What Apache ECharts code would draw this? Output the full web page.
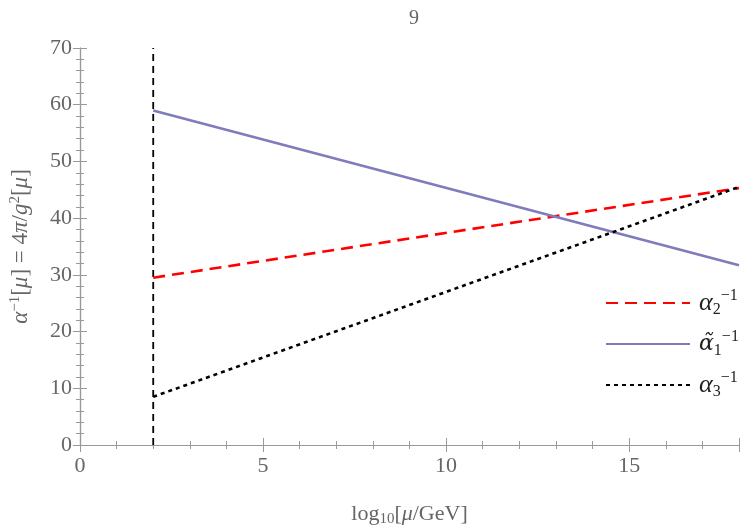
<!DOCTYPE html>
<html>
<head>
<meta charset="utf-8">
<script src="https://cdn.jsdelivr.net/npm/echarts@6/dist/echarts.min.js"></script>
<style>
  html, body { margin: 0; padding: 0; background: #fff; }
  #chart { width: 750px; height: 532px; }
</style>
</head>
<body>
<div id="chart"></div>
<script>
// running couplings, endpoints
const xs = [2, 18]
const alpha2 = [29.5, 45.3]
const alpha1 = [59.0, 31.7]
const alpha3 = [8.5, 45.5]
const cutX = 2
const yRange = [0, 70]

const serif = 'Liberation Serif'
const grey = '#666'
const frame = '#999'

const pts = (vals) => xs.map((x, i) => [x, vals[i]])

const chart = echarts.init(document.getElementById('chart'))

const richLegend = {
  a: { fontFamily: serif, fontSize: 26, fontStyle: 'italic', color: '#222' },
  at: { fontFamily: 'DejaVu Serif', fontSize: 22, fontStyle: 'italic', color: '#222' },
  sub: { fontFamily: serif, fontSize: 16, color: '#222', padding: [14, 0, 0, 0] },
  sup: { fontFamily: serif, fontSize: 16, color: '#222', padding: [0, 0, 14, 0] }
}

const legendNames = {
  a2: '{a|α}{sub|2}{sup|−1}',
  a1: '{at|α̃}{sub|1}{sup|−1}',
  a3: '{a|α}{sub|3}{sup|−1}'
}

// frame axes (top/right) only carry ticks
const tickAxis = (extra) => Object.assign({
  type: 'value',
  axisLine: { show: true, lineStyle: { color: frame, width: 1.2 } },
  axisTick: { show: true, inside: true, length: 7, lineStyle: { color: frame } },
  minorTick: { show: true, splitNumber: 5, length: 4, lineStyle: { color: frame } },
  axisLabel: { show: false },
  splitLine: { show: false }
}, extra)

const option = {
  animation: false,
  title: {
    text: '9',
    left: 409,
    top: 4,
    textAlign: 'center',
    textStyle: { fontFamily: serif, fontSize: 20, fontWeight: 'normal', color: grey }
  },
  grid: { left: 79, right: 11, top: 48, bottom: 78 },
  legend: {
    orient: 'vertical',
    left: 600,
    top: 283,
    itemWidth: 84,
    itemHeight: 30,
    itemGap: 11,
    data: ['a2', 'a1', 'a3'],
    itemStyle: { opacity: 0 },
    formatter: (n) => legendNames[n],
    textStyle: { rich: richLegend, padding: [0, 0, 0, 4] }
  },
  xAxis: [
    tickAxis({
      min: 0, max: 18, interval: 5,
      position: 'bottom',
      axisLabel: { show: true, showMaxLabel: false, fontFamily: serif, fontSize: 22, color: grey, margin: 10 },
      name: '{t|log}{s|10}{t|[}{i|μ}{t|/GeV]}',
      nameLocation: 'middle',
      nameGap: 57,
      nameTextStyle: {
        rich: {
          t: { fontFamily: serif, fontSize: 22, color: grey },
          i: { fontFamily: serif, fontSize: 22, fontStyle: 'italic', color: grey },
          s: { fontFamily: serif, fontSize: 15, color: grey, padding: [10, 0, 0, 0] }
        }
      }
    }),
    tickAxis({ min: 0, max: 18, interval: 5, position: 'top' })
  ],
  yAxis: [
    tickAxis({
      min: yRange[0], max: yRange[1], interval: 10,
      position: 'left',
      axisLabel: { show: true, fontFamily: serif, fontSize: 22, color: grey, margin: 8 },
      name: '{i|α}{p|−1}{t|[}{i|μ}{t|] = 4}{i|π}{t|/}{i|g}{p|2}{t|[}{i|μ}{t|]}',
      nameLocation: 'middle',
      nameRotate: 90,
      nameGap: 47,
      nameTextStyle: {
        rich: {
          t: { fontFamily: serif, fontSize: 23, color: grey },
          i: { fontFamily: serif, fontSize: 23, fontStyle: 'italic', color: grey },
          p: { fontFamily: serif, fontSize: 15, color: grey, padding: [0, 0, 10, 0] }
        }
      }
    }),
    tickAxis({ min: yRange[0], max: yRange[1], interval: 10, position: 'right' })
  ],
  series: [
    {
      name: 'cut', type: 'line', symbol: 'none', silent: true,
      data: [[cutX, yRange[0]], [cutX, yRange[1]]],
      lineStyle: { color: '#000', width: 1.8, type: [7, 5] }
    },
    {
      name: 'a2', type: 'line', symbol: 'none',
      data: pts(alpha2),
      lineStyle: { color: '#f00', width: 2.6, type: [12, 7] },
      itemStyle: { color: '#f00' }
    },
    {
      name: 'a1', type: 'line', symbol: 'none',
      data: pts(alpha1),
      lineStyle: { color: '#7f7bbd', width: 2.6 },
      itemStyle: { color: '#7f7bbd' }
    },
    {
      name: 'a3', type: 'line', symbol: 'none',
      data: pts(alpha3),
      lineStyle: { color: '#000', width: 2.6, type: [4, 4] },
      itemStyle: { color: '#000' }
    }
  ]
}

chart.setOption(option)
</script>
</body>
</html>
